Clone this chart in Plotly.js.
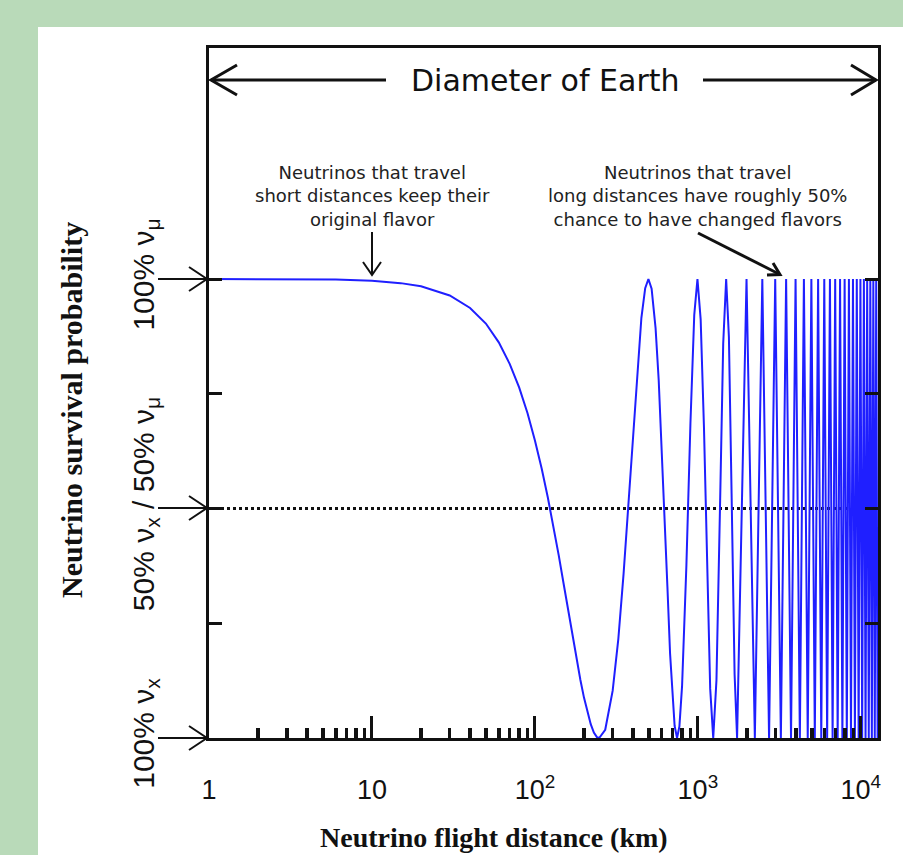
<!DOCTYPE html>
<html>
<head>
<meta charset="utf-8">
<script src="https://cdn.plot.ly/plotly-3.0.1.min.js"></script>
<style>html,body{margin:0;padding:0;background:#b9dab9;}#chart{width:903px;height:855px;}</style>
</head>
<body>
<div id="chart"></div>
<script>
// ---- data ----
// neutrino flight distance (km)
const distKm = [
  1, 3, 6, 10, 15, 20, 30, 40, 50, 60, 70, 80, 90, 100, 110, 120, 130, 140, 150, 160,
  170, 180, 190, 200, 210, 220, 230, 240, 248,
  270, 300, 325, 350, 375, 400, 425, 450, 475, 497, 520, 550, 575, 600, 625, 650, 675, 700, 720, 745,
  770, 800, 850, 900, 950, 994, 1040, 1090, 1140, 1190, 1242,
  1300, 1370, 1430, 1491, 1550, 1610, 1680, 1740,
  1988, 2236, 2485, 2734, 2982, 3230, 3479, 3728, 3976, 4224, 4473, 4722, 4970, 5218,
  5467, 5716, 5964, 6212, 6461, 6710, 6958, 7206, 7455, 7704, 7952, 8200, 8449, 8698,
  8946, 9194, 9443, 9692, 9940, 10188, 10437, 10686, 10934, 11182, 11431, 11680,
  11928, 12176, 12425, 12674, 12742
];
// muon-neutrino survival probability (fraction)
const survivalProb = [
  1, 1, 0.999, 0.996, 0.991, 0.984, 0.964, 0.937, 0.903, 0.862, 0.815, 0.764, 0.708, 0.648, 0.587, 0.524, 0.461, 0.398, 0.336, 0.278,
  0.222, 0.172, 0.127, 0.088, 0.056, 0.030, 0.012, 0.002, 0,
  0.018, 0.103, 0.216, 0.358, 0.514, 0.669, 0.806, 0.915, 0.98, 1, 0.979, 0.893, 0.779, 0.635, 0.473, 0.33, 0.184, 0.082, 0.026, 0,
  0.025, 0.114, 0.376, 0.685, 0.922, 1, 0.912, 0.675, 0.363, 0.107, 0,
  0.126, 0.521, 0.859, 1, 0.874, 0.532, 0.139, 0,
  1, 0, 1, 0, 1, 0, 1, 0, 1, 0, 1, 0, 1, 0,
  1, 0, 1, 0, 1, 0, 1, 0, 1, 0, 1, 0, 1, 0,
  1, 0, 1, 0, 1, 0, 1, 0, 1, 0, 1, 0,
  1, 0, 1, 0, 0.18
];
// 50/50 reference level
const halfLevelX = [1, 12742];
const halfLevelY = [0.5, 0.5];

const xTickVals = [1, 10, 100, 1000, 10000];
const xTickText = ['1', '10', '10<sup>2</sup>', '10<sup>3</sup>', '10<sup>4</sup>'];
const xMinorVals = [2,3,4,5,6,7,8,9,20,30,40,50,60,70,80,90,200,300,400,500,600,700,800,900,2000,3000,4000,5000,6000,7000,8000,9000];
const yTickVals = [0, 0.5, 1];
const yTickText = ['100% ν<sub>x</sub>', '50% ν<sub>x</sub> / 50% ν<sub>μ</sub>', '100% ν<sub>μ</sub>'];
const yMinorVals = [0.25, 0.75];
const earthDiameterKm = 12742;

// ---- layout helpers (pixel -> paper) ----
const W = 903, H = 855;
const ML = 209, MR = 25, MT = 48, MB = 117;
const PW = W - ML - MR, PH = H - MT - MB;
const px = x => (x - ML) / PW;
const py = y => (H - MB - y) / PH;
const ink = '#111';
function seg(x0, y0, x1, y1, w) {
  return {type: 'line', xref: 'paper', yref: 'paper', x0: px(x0), y0: py(y0), x1: px(x1), y1: py(y1),
          line: {color: ink, width: w}, layer: 'above'};
}
function vee(pts, w) {
  const p = pts.map((q, i) => (i ? 'L' : 'M') + px(q[0]).toFixed(5) + ',' + py(q[1]).toFixed(5)).join(' ');
  return {type: 'path', xref: 'paper', yref: 'paper', path: p, line: {color: ink, width: w}, layer: 'above'};
}

const shapes = [
  // white slide panel
  {type: 'rect', xref: 'paper', yref: 'paper', x0: px(38), x1: px(903), y0: py(855), y1: py(27),
   fillcolor: '#ffffff', line: {width: 0}, layer: 'below'},
  // diameter of earth arrow
  seg(211, 80, 386, 80, 3), seg(703, 80, 876, 80, 3),
  vee([[237, 65], [211, 80], [237, 95]], 3),
  vee([[851, 65], [876, 80], [851, 95]], 3),
  // annotation arrows
  seg(372, 232, 372, 274, 2), vee([[363, 262], [372, 275], [381, 262]], 2),
  seg(698, 233, 779, 274, 3), vee([[773, 263], [780, 274.5], [767, 275]], 3)
];
// arrows from the y tick labels to the axis
[279, 508, 738].forEach(yy => {
  shapes.push(seg(158, yy, 206, yy, 2));
  shapes.push(vee([[189, yy - 12], [207, yy], [189, yy + 12]], 2));
});

const sans = 'DejaVu Sans, sans-serif';
const arial = 'Liberation Sans, Arial, sans-serif';
const serif = 'Liberation Serif, Times New Roman, serif';

const annotations = [
  {xref: 'paper', yref: 'paper', x: px(545), y: py(81), text: 'Diameter of Earth', showarrow: false,
   font: {family: sans, size: 30, color: ink}, xanchor: 'center', yanchor: 'middle'},
  {xref: 'paper', yref: 'paper', x: px(372), y: py(196), text: 'Neutrinos that travel<br>short distances keep their<br>original flavor',
   showarrow: false, font: {family: sans, size: 18, color: '#222'}, align: 'center', xanchor: 'center', yanchor: 'middle'},
  {xref: 'paper', yref: 'paper', x: px(697), y: py(196), text: 'Neutrinos that travel<br>long distances have roughly 50%<br>chance to have changed flavors',
   showarrow: false, font: {family: sans, size: 18, color: '#222'}, align: 'center', xanchor: 'center', yanchor: 'middle'},
  {xref: 'paper', yref: 'paper', x: px(72), y: py(410), text: '<b>Neutrino survival probability</b>', textangle: -90,
   showarrow: false, font: {family: serif, size: 30, color: ink}, xanchor: 'center', yanchor: 'middle'},
  {xref: 'paper', yref: 'paper', x: px(494), y: py(837), text: '<b>Neutrino flight distance (km)</b>',
   showarrow: false, font: {family: serif, size: 28, color: ink}, xanchor: 'center', yanchor: 'middle'}
];

const traces = [
  {x: halfLevelX, y: halfLevelY, type: 'scatter', mode: 'lines', hoverinfo: 'skip',
   line: {color: ink, width: 3, dash: '3px,3px'}, showlegend: false},
  {x: distKm, y: survivalProb, type: 'scatter', mode: 'lines', name: 'P(νμ→νμ)',
   line: {color: '#1f1fff', width: 2}, showlegend: false}
];

const layout = {
  width: W, height: H,
  margin: {l: ML, r: MR, t: MT, b: MB, pad: 0},
  paper_bgcolor: '#b9dab9',
  plot_bgcolor: 'rgba(0,0,0,0)',
  showlegend: false,
  xaxis: {
    type: 'log', range: [0, Math.log10(earthDiameterKm)],
    showline: true, linecolor: ink, linewidth: 3, mirror: true,
    showgrid: false, zeroline: false,
    ticks: 'inside', ticklen: 22, tickwidth: 3, tickcolor: ink,
    tickmode: 'array', tickvals: xTickVals, ticktext: xTickText,
    tickfont: {family: arial, size: 27, color: ink}, ticklabelstandoff: 26,
    minor: {ticks: 'inside', ticklen: 10, tickwidth: 3.5, tickcolor: ink, tickvals: xMinorVals, showgrid: false}
  },
  yaxis: {
    range: [0, PH / 459],
    showline: true, linecolor: ink, linewidth: 3, mirror: 'ticks',
    showgrid: false, zeroline: false,
    ticks: 'inside', ticklen: 13, tickwidth: 3, tickcolor: ink,
    tickmode: 'array', tickvals: yTickVals, ticktext: yTickText, tickangle: -90,
    tickfont: {family: arial, size: 30, color: ink}, ticklabelstandoff: 40,
    minor: {ticks: 'inside', ticklen: 13, tickwidth: 3, tickcolor: ink, tickvals: yMinorVals, showgrid: false}
  },
  shapes: shapes,
  annotations: annotations
};

Plotly.newPlot('chart', traces, layout, {displayModeBar: false, staticPlot: true});
</script>
</body>
</html>
